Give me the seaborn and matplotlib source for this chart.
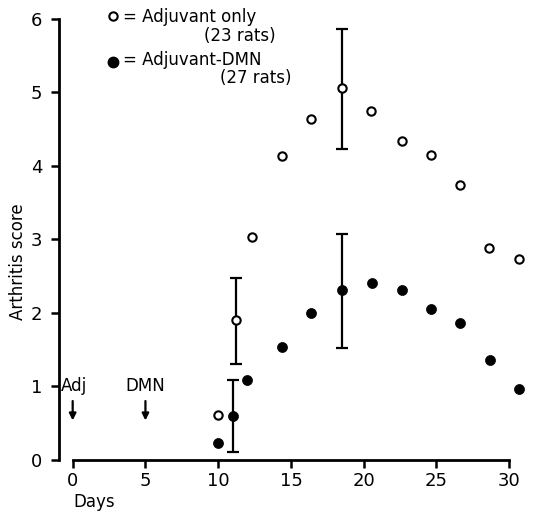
import numpy as np
import pandas as pd
import matplotlib
matplotlib.use('Agg')
import matplotlib.pyplot as plt
import seaborn as sns

# data
adj_days = [10.0, 11.2, 12.3, 14.4, 16.4, 18.5, 20.5, 22.6, 24.6, 26.6, 28.6, 30.7]
adj_score = [0.61, 1.91, 3.03, 4.13, 4.64, 5.06, 4.75, 4.34, 4.15, 3.74, 2.89, 2.73]
dmn_days = [10.0, 11.0, 12.0, 14.4, 16.4, 18.5, 20.6, 22.6, 24.6, 26.6, 28.7, 30.7]
dmn_score = [0.23, 0.60, 1.09, 1.54, 2.00, 2.31, 2.41, 2.31, 2.06, 1.86, 1.36, 0.97]

# error bars (day, low, high)
adj_err_days = [11.2, 18.5]
adj_err_low = [1.30, 4.23]
adj_err_high = [2.48, 5.87]
dmn_err_days = [11.0, 18.5]
dmn_err_low = [0.11, 1.53]
dmn_err_high = [1.09, 3.07]

x_ticks = [0, 5, 10, 15, 20, 25, 30]
y_ticks = [0, 1, 2, 3, 4, 5, 6]

sns.set_theme(style='white')
plt.rcParams['font.family'] = ['DejaVu Sans']
plt.rcParams['text.color'] = 'black'
plt.rcParams['xtick.color'] = 'black'
plt.rcParams['ytick.color'] = 'black'
plt.rcParams['xtick.labelcolor'] = 'black'
plt.rcParams['ytick.labelcolor'] = 'black'

W, H = 534, 513
fig = plt.figure(figsize=(W / 100, H / 100), dpi=100)
ax = fig.add_axes([59 / W, 53 / H, 467.7 / W, 444.7 / H])

adj_df = pd.DataFrame({'day': adj_days, 'score': adj_score})
dmn_df = pd.DataFrame({'day': dmn_days, 'score': dmn_score})

# error bars first so markers sit on top
for d, lo, hi, mid in zip(adj_err_days, adj_err_low, adj_err_high,
                          [adj_score[adj_days.index(v)] for v in adj_err_days]):
    ax.errorbar(d, mid, yerr=[[mid - lo], [hi - mid]], fmt='none',
                ecolor='black', elinewidth=1.6, capsize=4, capthick=1.6, zorder=2)
for d, lo, hi, mid in zip(dmn_err_days, dmn_err_low, dmn_err_high,
                          [dmn_score[dmn_days.index(v)] for v in dmn_err_days]):
    ax.errorbar(d, mid, yerr=[[mid - lo], [hi - mid]], fmt='none',
                ecolor='black', elinewidth=1.6, capsize=4, capthick=1.6, zorder=2)

sns.scatterplot(data=adj_df, x='day', y='score', ax=ax, marker='o', s=36,
                facecolor='white', edgecolor='black', linewidth=1.5, zorder=3)
sns.scatterplot(data=dmn_df, x='day', y='score', ax=ax, marker='o', s=52,
                color='black', edgecolor='black', linewidth=0.5, zorder=3)

ax.set_xlim(-0.94, 31.2)
ax.set_ylim(0, 6.05)
ax.set_xticks(x_ticks)
ax.set_yticks(y_ticks)
ax.set_xticklabels([str(t) for t in x_ticks], fontsize=13)
ax.set_yticklabels([str(t) for t in y_ticks], fontsize=13)
ax.tick_params(axis='both', direction='out', length=6, width=1.8, color='black',
               labelcolor='black', bottom=True, left=True)
ax.tick_params(axis='y', pad=6)
ax.tick_params(axis='x', pad=3)

for side in ['top', 'right']:
    ax.spines[side].set_visible(False)
for side in ['left', 'bottom']:
    ax.spines[side].set_color('black')
    ax.spines[side].set_linewidth(2.0)
ax.spines['left'].set_bounds(0, 6)
ax.spines['bottom'].set_bounds(0, 30)

ax.set_xlabel('')
ax.set_ylabel('')
fig.text(18 / W, 1 - 262 / H, 'Arthritis score', rotation=90, fontsize=12,
         ha='center', va='center')
fig.text(73 / W, 1 - 502 / H, 'Days', fontsize=12, ha='left', va='center')

# treatment arrows
ax.text(0.1, 1.0, 'Adj', fontsize=12, ha='center', va='center')
ax.text(5.0, 1.0, 'DMN', fontsize=12, ha='center', va='center')
for d in [0, 5]:
    ax.annotate('', xy=(d, 0.5), xytext=(d, 0.84),
                arrowprops=dict(arrowstyle='-|>', color='black', lw=1.6,
                                mutation_scale=10))

# key
ax.plot([113 / W], [1 - 16 / H], marker='o', ms=6, mfc='white', mec='black',
        mew=1.5, transform=fig.transFigure, clip_on=False)
ax.plot([113 / W], [1 - 62 / H], marker='o', ms=7.5, color='black',
        transform=fig.transFigure, clip_on=False)
fig.text(123 / W, 1 - 17 / H, '= Adjuvant only', fontsize=12, ha='left', va='center')
fig.text(276 / W, 1 - 36 / H, '(23 rats)', fontsize=12, ha='right', va='center')
fig.text(123 / W, 1 - 60 / H, '= Adjuvant-DMN', fontsize=12, ha='left', va='center')
fig.text(291 / W, 1 - 78 / H, '(27 rats)', fontsize=12, ha='right', va='center')

fig.savefig('out.png', dpi=100)
